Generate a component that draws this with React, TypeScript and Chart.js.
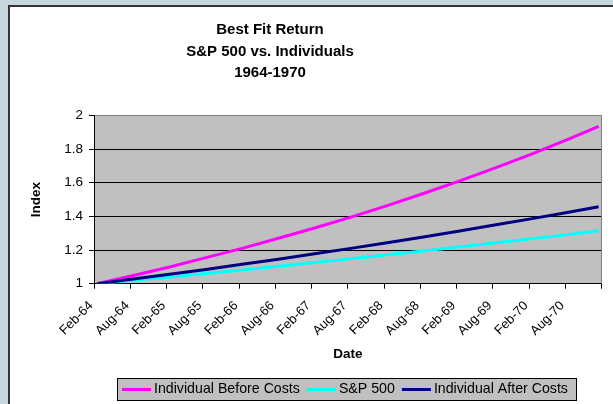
import React, { useEffect, useRef } from "react";
import { Chart, registerables } from "chart.js";

Chart.register(...registerables);

const titleLines = ["Best Fit Return", "S&P 500 vs. Individuals", "1964-1970"];
const xTitle = "Date";
const yTitle = "Index";
const tickLabels = [
  "Feb-64", "Aug-64", "Feb-65", "Aug-65", "Feb-66", "Aug-66", "Feb-67",
  "Aug-67", "Feb-68", "Aug-68", "Feb-69", "Aug-69", "Feb-70", "Aug-70",
];
// month offsets from Feb-64 at which values were read
const monthIndex = [0, 6, 12, 18, 24, 30, 36, 42, 48, 54, 60, 66, 72, 78, 83];
const beforeCosts = [1.0, 1.049, 1.099, 1.155, 1.21, 1.27, 1.331, 1.396, 1.464, 1.536, 1.611, 1.69, 1.772, 1.859, 1.935];
const sp500 = [1.0, 1.02, 1.04, 1.061, 1.082, 1.104, 1.126, 1.149, 1.172, 1.195, 1.219, 1.243, 1.268, 1.293, 1.315];
const afterCosts = [1.0, 1.028, 1.056, 1.085, 1.115, 1.146, 1.178, 1.21, 1.244, 1.278, 1.313, 1.35, 1.387, 1.425, 1.458];
const seriesNames = ["Individual Before Costs", "S&P 500", "Individual After Costs"];
const seriesColors = ["#ff00ff", "#00ffff", "#000080"];

const FONT = '"Liberation Sans", Arial, sans-serif';

const framePlugin = {
  id: "frame",
  beforeDraw(chart: any) {
    const { ctx, width, height, chartArea: a } = chart;
    ctx.save();
    ctx.fillStyle = "#c8d7de";
    ctx.fillRect(0, 0, width, height);
    ctx.fillStyle = "#ffffff";
    ctx.fillRect(8, 5, width - 8, height - 5);
    ctx.strokeStyle = "#333333";
    ctx.lineWidth = 2;
    ctx.beginPath();
    ctx.moveTo(9, height);
    ctx.lineTo(9, 6);
    ctx.lineTo(width, 6);
    ctx.stroke();
    ctx.fillStyle = "#c0c0c0";
    ctx.fillRect(a.left, a.top, a.right - a.left, a.bottom - a.top);
    ctx.restore();
  },
  afterDraw(chart: any) {
    const { ctx, chartArea: a } = chart;
    const xs = chart.scales.x;
    ctx.save();
    // right plot border
    ctx.strokeStyle = "#808080";
    ctx.lineWidth = 1;
    ctx.beginPath();
    ctx.moveTo(Math.round(a.right) - 0.5, a.top);
    ctx.lineTo(Math.round(a.right) - 0.5, a.bottom);
    ctx.stroke();

    // rotated x tick labels, placed at the scale's tick positions
    ctx.fillStyle = "#000";
    ctx.font = `13px ${FONT}`;
    ctx.textAlign = "right";
    ctx.textBaseline = "middle";
    xs.ticks.forEach((t: any, i: number) => {
      const label = tickLabels[i];
      if (!label) return;
      const px = xs.getPixelForValue(t.value);
      ctx.save();
      ctx.translate(px - 3, a.bottom + 20);
      ctx.rotate(-Math.PI / 4);
      ctx.fillText(label, 0, 0);
      ctx.restore();
    });

    // titles
    ctx.fillStyle = "#000";
    ctx.textAlign = "center";
    ctx.textBaseline = "alphabetic";
    ctx.font = `bold 15px ${FONT}`;
    const baselines = [34, 55.5, 77];
    titleLines.forEach((t, i) => ctx.fillText(t, 270, baselines[i]));

    ctx.font = `bold 13.5px ${FONT}`;
    ctx.fillText(xTitle, (a.left + a.right) / 2, 358);
    ctx.save();
    ctx.translate(40, (a.top + a.bottom) / 2);
    ctx.rotate(-Math.PI / 2);
    ctx.fillText(yTitle, 0, 0);
    ctx.restore();

    // legend
    const boxL = 117, boxT = 378, boxR = 577, boxB = 401;
    ctx.fillStyle = "#c0c0c0";
    ctx.fillRect(boxL, boxT, boxR - boxL, boxB - boxT);
    ctx.strokeStyle = "#000";
    ctx.lineWidth = 1;
    ctx.strokeRect(boxL + 0.5, boxT + 0.5, boxR - boxL - 1, boxB - boxT - 1);
    const cy = (boxT + boxB) / 2;
    let x = 122;
    ctx.font = `14.2px ${FONT}`;
    ctx.textAlign = "left";
    ctx.textBaseline = "middle";
    chart.data.datasets.forEach((ds: any) => {
      ctx.strokeStyle = ds.borderColor;
      ctx.lineWidth = 3;
      ctx.beginPath();
      ctx.moveTo(x, cy);
      ctx.lineTo(x + 29, cy);
      ctx.stroke();
      x += 32;
      ctx.fillStyle = "#000";
      ctx.fillText(ds.label, x, cy);
      x += ctx.measureText(ds.label).width + 7;
    });
    ctx.restore();
  },
};

export default function App() {
  const ref = useRef<HTMLCanvasElement | null>(null);

  useEffect(() => {
    document.body.style.margin = "0";
    document.body.style.overflow = "hidden";
    const canvas = ref.current;
    if (!canvas) return;
    const series = [beforeCosts, sp500, afterCosts];
    const chart = new Chart(canvas, {
      type: "line",
      data: {
        datasets: series.map((vals, s) => ({
          label: seriesNames[s],
          data: monthIndex.map((m, i) => ({ x: m, y: vals[i] })),
          borderColor: seriesColors[s],
          backgroundColor: seriesColors[s],
          borderWidth: 3,
          pointRadius: 0,
          tension: 0,
          fill: false,
          order: 2 - s,
        })),
      },
      options: {
        responsive: false,
        animation: false,
        devicePixelRatio: 1,
        layout: { padding: { left: 0, right: 11.3, top: 115.5, bottom: 0 } },
        plugins: {
          legend: { display: false },
          title: { display: false },
          tooltip: { enabled: false },
        },
        scales: {
          x: {
            type: "linear",
            min: -0.5,
            max: 83.5,
            afterBuildTicks: (scale: any) => {
              scale.ticks = Array.from({ length: tickLabels.length + 1 }, (_, k) => ({ value: -0.5 + 6 * k }));
            },
            afterFit: (scale: any) => {
              scale.height = 120.3;
            },
            ticks: {
              display: false,
              autoSkip: false,
            },
            grid: {
              drawOnChartArea: false,
              drawTicks: true,
              tickLength: 5,
              color: "#000",
            },
            border: { display: true, color: "#000", width: 1 },
          },
          y: {
            min: 1,
            max: 2,
            afterFit: (scale: any) => {
              scale.width = 94;
            },
            ticks: {
              stepSize: 0.2,
              padding: 6,
              color: "#000",
              font: { family: FONT, size: 13.5 },
              callback: (v: any) => String(Number(Number(v).toFixed(1))),
            },
            grid: {
              color: (c: any) => (c.tick && c.tick.value > 1.99 ? "#808080" : "#000"),
              tickColor: "#000",
              tickLength: 5,
            },
            border: { display: true, color: "#000", width: 1 },
          },
        },
      },
      plugins: [framePlugin],
    });
    return () => chart.destroy();
  }, []);

  return <canvas ref={ref} width={613} height={404} style={{ display: "block", width: 613, height: 404 }} />;
}
